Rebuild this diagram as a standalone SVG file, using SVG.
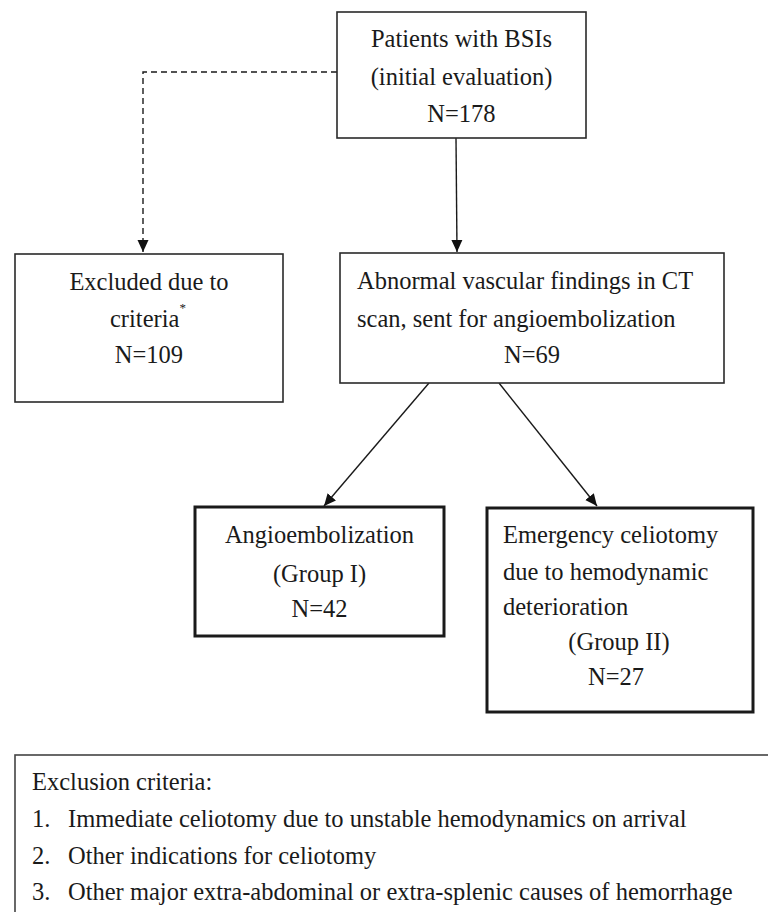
<svg xmlns="http://www.w3.org/2000/svg" width="768" height="912" viewBox="0 0 768 912">
<style>
.bg{fill:#ffffff}
.box{fill:#ffffff;stroke:#2a2a2a;stroke-width:1.6}
.thick{fill:#ffffff;stroke:#1a1a1a;stroke-width:3}
.t{font-family:"Liberation Serif","Times New Roman",serif;font-size:24.5px;fill:#1a1a1a}
.c{text-anchor:middle}
.ln{fill:none;stroke:#1a1a1a;stroke-width:1.4}
.dash{stroke-dasharray:6 4}
</style>
<defs>
<marker id="ah" markerUnits="userSpaceOnUse" markerWidth="12" markerHeight="12" refX="12" refY="6" orient="auto">
<path d="M0,0.5 L12,6 L0,11.5 z" fill="#111"/>
</marker>
</defs>
<rect class="bg" x="0" y="0" width="768" height="912"/>
<g id="connectors">
<path class="ln dash" d="M337,72 H143 V252" marker-end="url(#ah)"/>
<path class="ln" d="M456,138 L457,252" marker-end="url(#ah)"/>
<path class="ln" d="M429,383 L324,506" marker-end="url(#ah)"/>
<path class="ln" d="M499,383 L597,506" marker-end="url(#ah)"/>
</g>
<g id="patients">
<rect class="box" x="337" y="12" width="249" height="126"/>
<text class="t c" x="461.5" y="47">Patients with BSIs</text>
<text class="t c" x="461.5" y="85">(initial evaluation)</text>
<text class="t c" x="461.5" y="122">N=178</text>
</g>
<g id="excluded">
<rect class="box" x="15" y="254" width="268" height="148"/>
<text class="t c" x="149" y="290">Excluded due to</text>
<text class="t" x="110" y="327">criteria<tspan font-size="13" dy="-15">*</tspan></text>
<text class="t c" x="149" y="363">N=109</text>
</g>
<g id="abnormal">
<rect class="box" x="340" y="253" width="384" height="130"/>
<text class="t" x="357" y="289">Abnormal vascular findings in CT</text>
<text class="t" x="357" y="327">scan, sent for angioembolization</text>
<text class="t c" x="532" y="363">N=69</text>
</g>
<g id="angio">
<rect class="thick" x="195" y="507" width="249" height="129"/>
<text class="t c" x="319.5" y="543">Angioembolization</text>
<text class="t c" x="319.5" y="582">(Group I)</text>
<text class="t c" x="319.5" y="617">N=42</text>
</g>
<g id="emergency">
<rect class="thick" x="487" y="508" width="266" height="204"/>
<text class="t" x="503" y="543">Emergency celiotomy</text>
<text class="t" x="503" y="580">due to hemodynamic</text>
<text class="t" x="503" y="615">deterioration</text>
<text class="t c" x="619" y="650">(Group II)</text>
<text class="t c" x="616" y="685">N=27</text>
</g>
<g id="criteria">
<rect class="box" x="15" y="755" width="780" height="200" style="stroke:#444"/>
<text class="t" x="32" y="790">Exclusion criteria:</text>
<text class="t" x="32" y="827">1.</text>
<text class="t" x="68" y="827">Immediate celiotomy due to unstable hemodynamics on arrival</text>
<text class="t" x="32" y="864">2.</text>
<text class="t" x="68" y="864">Other indications for celiotomy</text>
<text class="t" x="32" y="900">3.</text>
<text class="t" x="68" y="900">Other major extra-abdominal or extra-splenic causes of hemorrhage</text>
</g>
</svg>
